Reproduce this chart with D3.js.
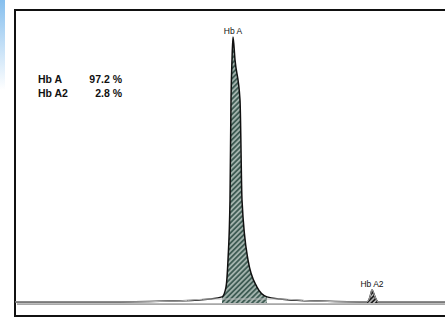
<!DOCTYPE html>
<html>
<head>
<meta charset="utf-8">
<script src="https://cdn.jsdelivr.net/npm/d3@7"></script>
<style>
  body { margin: 0; background: #fff; }
  svg { display: block; }
</style>
</head>
<body>
<div id="myPlot"></div>
<script>
// densitometry trace (migration, relative absorbance)
var migration  = [0, 105, 165, 195, 207, 211, 213, 215, 216, 217, 218, 220, 225, 227, 233, 242, 252, 265, 295, 345, 352, 355, 357, 360, 363, 430];
var absorbance = [0.4, 0.4, 0.8, 1.5, 2.3, 6.0, 16.2, 38.7, 76.3, 91.4, 100, 91.4, 76.3, 38.7, 16.2, 6.0, 2.3, 1.5, 0.8, 0.4, 0.4, 2.3, 4.9, 2.3, 0.4, 0.4];

// fractions
var fractionNames    = ["Hb A", "Hb A2"];
var fractionPercents = ["97.2 %", "2.8 %"];
var fractionStart    = [205, 352];
var fractionEnd      = [255, 363];

var svgWidth = 445;
var svgHeight = 320;

var frame = { left: 15, top: 10, bottom: 316, right: 445 };

var svg = d3.select("#myPlot")
    .append("svg")
    .attr("width", svgWidth)
    .attr("height", svgHeight);

var trace = migration.map((m, i) => ({ x: m, y: absorbance[i] }));

var xScale = d3.scaleLinear().domain([0, 430]).range([15, 445]);
var yScale = d3.scaleLinear().domain([0, 100]).range([303, 37]);

var defs = svg.append("defs");

// blue scan edge, top left
var grad = defs.append("linearGradient")
    .attr("id", "edge").attr("x1", 0).attr("x2", 0).attr("y1", 0).attr("y2", 1);
grad.append("stop").attr("offset", "0%").attr("stop-color", "#86bfee");
grad.append("stop").attr("offset", "100%").attr("stop-color", "#86bfee").attr("stop-opacity", 0);

svg.append("rect")
    .attr("x", 0).attr("y", 0)
    .attr("width", 5).attr("height", 90)
    .attr("fill", "url(#edge)");

// hatching for the peaks
function hatch(id, bg, fg, size) {
    var p = defs.append("pattern")
        .attr("id", id)
        .attr("patternUnits", "userSpaceOnUse")
        .attr("width", size).attr("height", size)
        .attr("patternTransform", "rotate(45)");
    p.append("rect").attr("width", size).attr("height", size).attr("fill", bg);
    p.append("line")
        .attr("x1", size / 2).attr("x2", size / 2)
        .attr("y1", 0).attr("y2", size)
        .attr("stroke", fg).attr("stroke-width", size * 0.35);
}
hatch("hatchA", "#3f5c54", "#cdd8d3", 3.6);
hatch("hatchA2", "#1c1c1c", "#f2f2f2", 3.2);

// frame
var border = svg.append("g")
    .attr("stroke", "#111")
    .attr("stroke-width", 2)
    .attr("fill", "none");
border.append("line").attr("x1", frame.left).attr("x2", frame.right).attr("y1", frame.top).attr("y2", frame.top);
border.append("line").attr("x1", frame.left).attr("x2", frame.left).attr("y1", frame.top - 1).attr("y2", frame.bottom + 1);
border.append("line").attr("x1", frame.left).attr("x2", frame.right).attr("y1", frame.bottom).attr("y2", frame.bottom);

// base line
svg.append("line")
    .attr("x1", xScale(2)).attr("x2", xScale(430))
    .attr("y1", yScale(-0.4)).attr("y2", yScale(-0.4))
    .attr("stroke", "#666")
    .attr("stroke-width", 1);

// shaded fractions
var area = d3.area()
    .x(d => xScale(d.x))
    .y0(yScale(0))
    .y1(d => yScale(d.y))
    .curve(d3.curveMonotoneX);

var line = d3.line()
    .x(d => xScale(d.x))
    .y(d => yScale(d.y))
    .curve(d3.curveMonotoneX);

fractionNames.forEach(function (name, i) {
    var pts = trace.filter(d => d.x >= fractionStart[i] && d.x <= fractionEnd[i]);
    svg.append("path")
        .datum(pts)
        .attr("d", area)
        .attr("fill", i == 0 ? "url(#hatchA)" : "url(#hatchA2)")
        .attr("stroke", "none");

    var top = pts.reduce((a, b) => (b.y > a.y ? b : a));
    svg.append("text")
        .attr("x", xScale(top.x))
        .attr("y", yScale(top.y) - 3)
        .attr("text-anchor", "middle")
        .style("font", "8.5px 'Liberation Sans', Arial, sans-serif")
        .style("fill", "#111")
        .text(name);
});

// trace outline
svg.append("path")
    .datum(trace)
    .attr("d", line)
    .attr("fill", "none")
    .attr("stroke", "#111")
    .attr("stroke-width", 1.5);

// light second trace just above base line
svg.append("path")
    .datum(trace.filter(d => d.x < 200 || d.x > 262))
    .attr("d", line)
    .attr("fill", "none")
    .attr("stroke", "#bbb")
    .attr("stroke-width", 1);

// result table
var table = svg.append("g")
    .style("font", "bold 10.5px 'Liberation Sans', Arial, sans-serif")
    .style("fill", "#111");

fractionNames.forEach(function (name, i) {
    table.append("text")
        .attr("x", 38)
        .attr("y", 83 + i * 14)
        .text(name);
    table.append("text")
        .attr("x", 122)
        .attr("y", 83 + i * 14)
        .attr("text-anchor", "end")
        .text(fractionPercents[i]);
});
</script>
</body>
</html>
